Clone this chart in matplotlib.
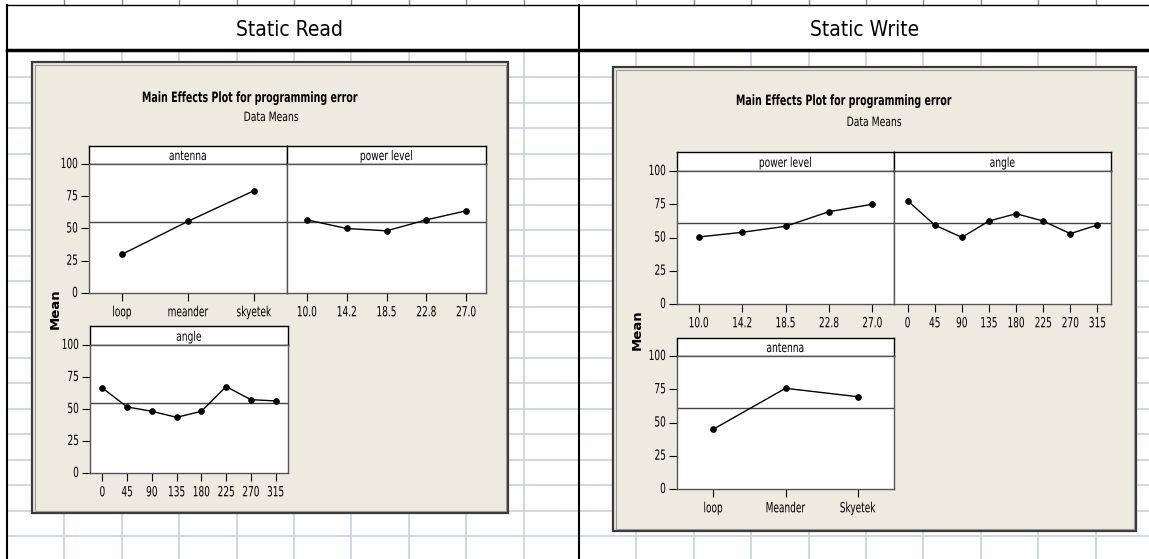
import matplotlib
matplotlib.use("Agg")
import matplotlib.pyplot as plt
from matplotlib.patches import Rectangle
from matplotlib.patheffects import AbstractPathEffect
from matplotlib.transforms import Affine2D

W, H = 1149, 559
NARROW = dict(family="DejaVu Sans", fontstretch="condensed")

# ---------------- data ----------------
read_antenna_levels = ["loop", "meander", "skyetek"]
read_antenna_means = [30.0, 55.6, 79.3]
read_power_levels = ["10.0", "14.2", "18.5", "22.8", "27.0"]
read_power_means = [56.7, 50.0, 48.2, 56.7, 63.7]
read_angle_levels = ["0", "45", "90", "135", "180", "225", "270", "315"]
read_angle_means = [66.4, 51.6, 48.2, 43.5, 48.2, 67.5, 57.3, 56.3]
read_grand_mean = 54.8

write_power_levels = ["10.0", "14.2", "18.5", "22.8", "27.0"]
write_power_means = [50.4, 53.9, 58.4, 69.4, 75.0]
write_angle_levels = ["0", "45", "90", "135", "180", "225", "270", "315"]
write_angle_means = [77.7, 59.4, 50.1, 62.4, 67.9, 62.4, 52.9, 59.4]
write_antenna_levels = ["loop", "Meander", "Skyetek"]
write_antenna_means = [44.9, 75.7, 69.4]
write_grand_mean = 60.6

y_ticks = [0, 25, 50, 75, 100]
plot_title = "Main Effects Plot for programming error"
plot_subtitle = "Data Means"


class Tall(AbstractPathEffect):
    """stretch glyphs vertically (about the baseline) to mimic a narrow font"""
    def __init__(self, sy):
        super().__init__()
        self._sy = sy

    def draw_path(self, renderer, gc, tpath, affine, rgbFace=None):
        renderer.draw_path(gc, tpath, Affine2D().scale(1.0, self._sy) + affine, rgbFace)


fig = plt.figure(figsize=(W / 100, H / 100), dpi=100)
fig.patch.set_facecolor("white")


def px_axes(l, t, r, b, z=1):
    return fig.add_axes([l / W, 1 - b / H, (r - l) / W, (b - t) / H], zorder=z)


# background: spreadsheet grid and table lines
bg = px_axes(0, 0, W, H, z=0)
bg.set_xlim(0, W); bg.set_ylim(H, 0); bg.axis("off")
grid_c = "#c8d2e4"
for x0 in (7, 579):
    for k in range(1, 11):
        gx = x0 + 57.4 * k
        if gx < (579 if x0 == 7 else W):
            bg.plot([gx, gx], [51, H], color=grid_c, lw=1.2, zorder=0)
            bg.plot([gx, gx], [0, 5], color="#888888", lw=1.0, zorder=0)
for k in range(1, 21):
    gy = 51.5 + 25.5 * k
    if gy < H:
        bg.plot([7, W], [gy, gy], color=grid_c, lw=1.2, zorder=0)
bg.plot([7, W], [5, 5], color="black", lw=1.0)
bg.plot([7, W], [50, 50], color="black", lw=2.5)
bg.plot([7, 7], [5, H], color="black", lw=1.5)
bg.plot([579, 579], [5, H], color="black", lw=1.5)
bg.text(290, 30, "Static Read", ha="center", va="center", fontsize=15, **NARROW)
bg.text(865, 30, "Static Write", ha="center", va="center", fontsize=15, **NARROW)


def beige_box(l, t, r, b, title_x, sub_x, title_y, sub_y, mean_x, mean_y):
    bg.add_patch(Rectangle((l, t), r - l, b - t, facecolor="#eeeae0",
                           edgecolor="#3a3a3a", lw=1.6, zorder=2))
    bg.add_patch(Rectangle((l + 2.5, t + 2.5), r - l - 5, b - t - 5, facecolor="none",
                           edgecolor="#9a9a9a", lw=0.8, zorder=2))
    bg.text(title_x, title_y + 3, plot_title, ha="center", va="baseline", fontsize=7.6,
            fontweight="bold", zorder=3, path_effects=[Tall(1.35)], **NARROW)
    bg.text(sub_x, sub_y + 4, plot_subtitle, ha="center", va="baseline", fontsize=7.4,
            zorder=3, path_effects=[Tall(1.25)], **NARROW)
    bg.text(mean_x, mean_y, "Mean", ha="center", va="center", rotation=90,
            fontsize=9.5, fontweight="bold", family="DejaVu Sans", zorder=3)


def panel(l, strip_t, r, top, bottom, name, levels, means, grand, show_y):
    st = px_axes(l, strip_t, r, top, z=3)
    st.set_xticks([]); st.set_yticks([])
    st.set_facecolor("white")
    for s in st.spines.values():
        s.set_color("black"); s.set_linewidth(1.0)
    st.text(0.5, 0.22, name, ha="center", va="baseline", fontsize=7.3,
            transform=st.transAxes, path_effects=[Tall(1.3)], **NARROW)

    ax = px_axes(l, top, r, bottom, z=3)
    ax.set_facecolor("white")
    xs = list(range(len(levels)))
    ax.axhline(grand, color="#444444", lw=1.0, zorder=1)
    ax.plot(xs, means, color="black", lw=1.0, marker="o", ms=3.8, zorder=2)
    ax.set_xlim(-0.5, len(levels) - 0.5)
    ax.set_ylim(0, 100)
    ax.set_xticks(xs)
    ax.set_xticklabels(levels, fontsize=7.2, **NARROW)
    ax.set_yticks(y_ticks)
    if show_y:
        ax.set_yticklabels([str(v) for v in y_ticks], fontsize=7.2, **NARROW)
        ax.tick_params(axis="y", direction="out", length=6, width=0.8, pad=2)
    else:
        ax.tick_params(axis="y", left=False, labelleft=False)
    ax.tick_params(axis="x", direction="out", length=6, width=0.8, pad=5)
    for lab in ax.get_xticklabels() + ax.get_yticklabels():
        lab.set_path_effects([Tall(1.4)])
    for s in ax.spines.values():
        s.set_color("#555555"); s.set_linewidth(1.0)
    return ax


# ---------------- Static Read ----------------
beige_box(32, 62, 508, 513, 249, 271, 99, 117, 55, 309)
panel(89, 146, 287, 164, 293, "antenna", read_antenna_levels, read_antenna_means,
      read_grand_mean, True)
panel(287, 146, 486, 164, 293, "power level", read_power_levels, read_power_means,
      read_grand_mean, False)
panel(90, 326, 288, 345, 473, "angle", read_angle_levels, read_angle_means,
      read_grand_mean, True)

# ---------------- Static Write ----------------
beige_box(613, 67, 1136, 531, 843, 874, 102, 122, 637, 330)
panel(677, 152, 894, 171, 304, "power level", write_power_levels, write_power_means,
      write_grand_mean, True)
panel(894, 152, 1111, 171, 304, "angle", write_angle_levels, write_angle_means,
      write_grand_mean, False)
panel(677, 338, 894, 356, 489, "antenna", write_antenna_levels, write_antenna_means,
      write_grand_mean, True)

fig.savefig("out.png", dpi=100)
